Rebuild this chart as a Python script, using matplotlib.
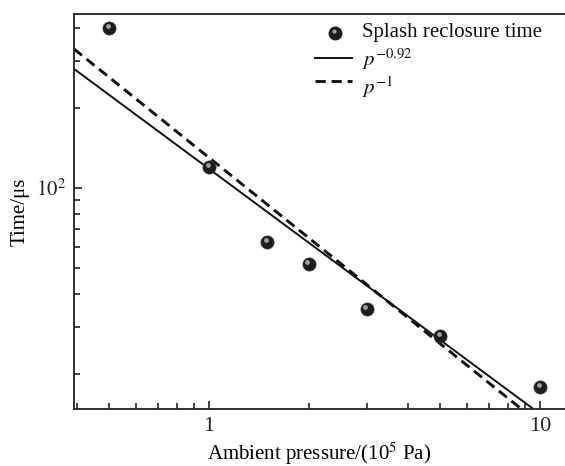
import matplotlib.pyplot as plt
import matplotlib.ticker as mticker
import numpy as np

plt.rcParams['font.family'] = ['Liberation Serif', 'DejaVu Serif']
plt.rcParams['mathtext.fontset'] = 'stix'

# ambient pressure (10^5 Pa) and splash reclosure time (us)
pressure = [0.5, 1.0, 1.5, 2.0, 3.0, 5.0, 10.0]
reclosure_time = [400, 120, 62.5, 52, 35, 27.8, 17.9]

# power-law fits t = A * p^k
fit_solid_coef, fit_solid_exp = 118, -0.92
fit_dash_coef, fit_dash_exp = 130, -1.0

legend_labels = ['Splash reclosure time', r'$p^{-0.92}$', r'$p^{-1}$']

x_ticks = [1, 10]
x_tick_labels = ['1', '10']
y_ticks = [100]
y_tick_labels = [r'$10^{2}$']

xmin, xmax = 0.391, 11.9
ymin, ymax = 14.8, 450

fig = plt.figure(figsize=(5.65, 4.66), dpi=100)
ax = fig.add_axes([0.131, 0.1223, 0.869, 0.8477])

p = np.logspace(np.log10(xmin), np.log10(xmax), 200)
dash = (0, (3.5, 2.0))
ax.plot(p, fit_solid_coef * p ** fit_solid_exp, color='#111111', lw=1.4)
ax.plot(p, fit_dash_coef * p ** fit_dash_exp, color='#111111', lw=2.1,
        linestyle=dash)

# shaded spheres: dark body plus a small highlight
ax.scatter(pressure, reclosure_time, s=90, color='#1c1c1c', zorder=3,
           edgecolors='#3a3a3a', linewidths=0.5)
hx = [v * 0.99 for v in pressure]
hy = [v * 1.018 for v in reclosure_time]
ax.scatter(hx, hy, s=12, color='#a0a0a0', zorder=4, linewidths=0)

ax.set_xscale('log')
ax.set_yscale('log')
ax.set_xlim(xmin, xmax)
ax.set_ylim(ymin, ymax)

ax.xaxis.set_major_locator(mticker.FixedLocator(x_ticks))
ax.xaxis.set_major_formatter(mticker.FixedFormatter(x_tick_labels))
ax.xaxis.set_minor_locator(mticker.FixedLocator(
    [0.4, 0.5, 0.6, 0.7, 0.8, 0.9, 2, 3, 4, 5, 6, 7, 8, 9]))
ax.xaxis.set_minor_formatter(mticker.NullFormatter())
ax.yaxis.set_major_locator(mticker.FixedLocator(y_ticks))
ax.yaxis.set_major_formatter(mticker.FixedFormatter(y_tick_labels))
ax.yaxis.set_minor_locator(mticker.FixedLocator(
    [20, 30, 40, 50, 60, 70, 80, 90, 200, 300, 400]))
ax.yaxis.set_minor_formatter(mticker.NullFormatter())

ax.tick_params(which='both', direction='in', top=False, right=False,
               width=1.2, colors='#222222')
ax.tick_params(which='major', length=6, pad=6)
ax.tick_params(which='minor', length=4.5)
ax.tick_params(axis='x', labelsize=16)
ax.tick_params(axis='y', labelsize=15)

ax.spines['right'].set_visible(False)
for s in ['top', 'bottom', 'left']:
    ax.spines[s].set_linewidth(1.3)
    ax.spines[s].set_color('#222222')

ax.set_xlabel(r'Ambient pressure/(10$^{5}$ Pa)', fontsize=15, labelpad=3)
ax.set_ylabel('Time/μs', fontsize=15, labelpad=4)

# hand-built legend in axes fraction so the rows sit close together
tr = ax.transAxes
ax.plot([0.532], [0.952], 'o', ms=9, color='#1c1c1c', transform=tr)
ax.plot([0.530], [0.956], 'o', ms=3, color='#a0a0a0', mew=0, transform=tr)
ax.plot([0.491, 0.566], [0.889, 0.889], color='#111111', lw=1.4, transform=tr)
ax.plot([0.491, 0.566], [0.830, 0.830], color='#111111', lw=2.1,
        linestyle=dash, transform=tr)
for yy, lab in zip([0.952, 0.886, 0.815], legend_labels):
    ax.text(0.587, yy, lab, transform=tr, fontsize=15, va='center',
            ha='left', color='#111111')

fig.savefig('out.png', dpi=100)
